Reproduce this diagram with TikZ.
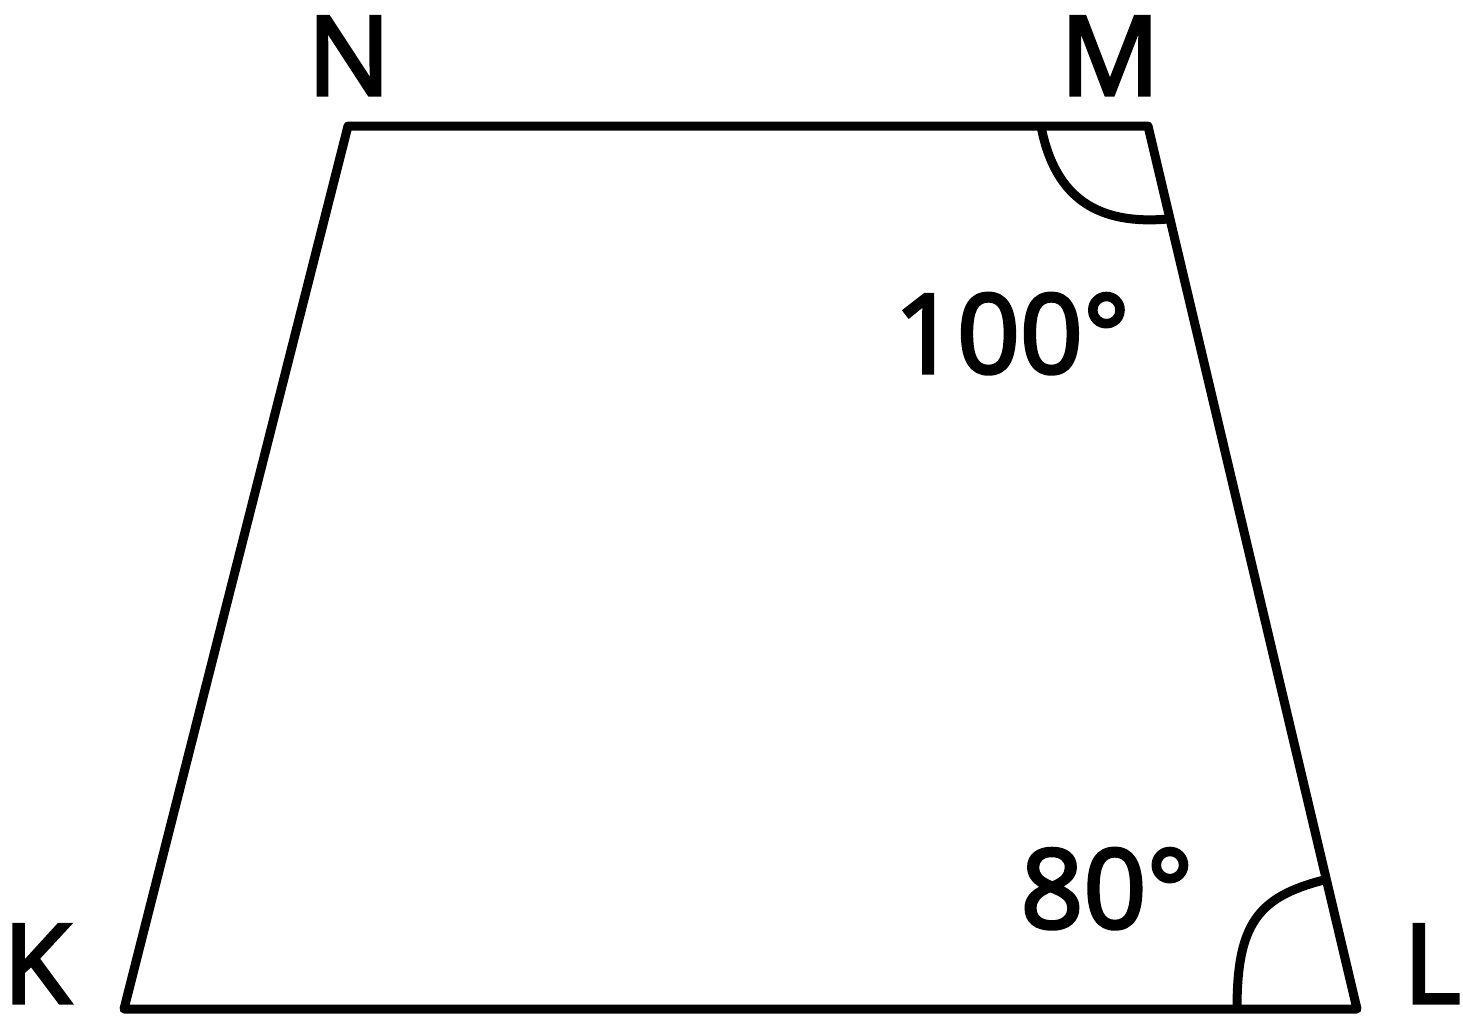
\documentclass[tikz,border=0pt]{standalone}
\usepackage{fontspec}
\setmainfont{Open Sans}[FakeBold=3]
\begin{document}
\begin{tikzpicture}[x=0.5pt,y=-0.5pt,
  edge/.style={line width=4.5pt,line join=round,line cap=round},
  anglemark/.style={line width=4.5pt},
  lbl/.style={inner sep=0pt,anchor=base,font=\fontsize{55pt}{60pt}\selectfont}]
\useasboundingbox (0,0) rectangle (1463,1034);
\coordinate (K) at (124,1009);
\coordinate (L) at (1357,1009);
\coordinate (M) at (1148,126);
\coordinate (N) at (348,126);
\draw[edge] (K) -- (L) -- (M) -- (N) -- cycle;
\draw[anglemark] (1041,126) .. controls (1055,200) and (1100,225) .. (1168,219);
\draw[anglemark] (1237,1009) .. controls (1237,925) and (1257,897) .. (1324,880);
\node[lbl] (nN) at (349,95) {N};
\node[lbl] (nM) at (1110,95) {M};
\node[lbl] (nK) at (37,1003) {K};
\node[lbl] (nL) at (1432,1003) {L};
\node[lbl] (a100) at (1012,373) {100°};
\node[lbl] (a80) at (1107,928) {80°};
\end{tikzpicture}
\end{document}
